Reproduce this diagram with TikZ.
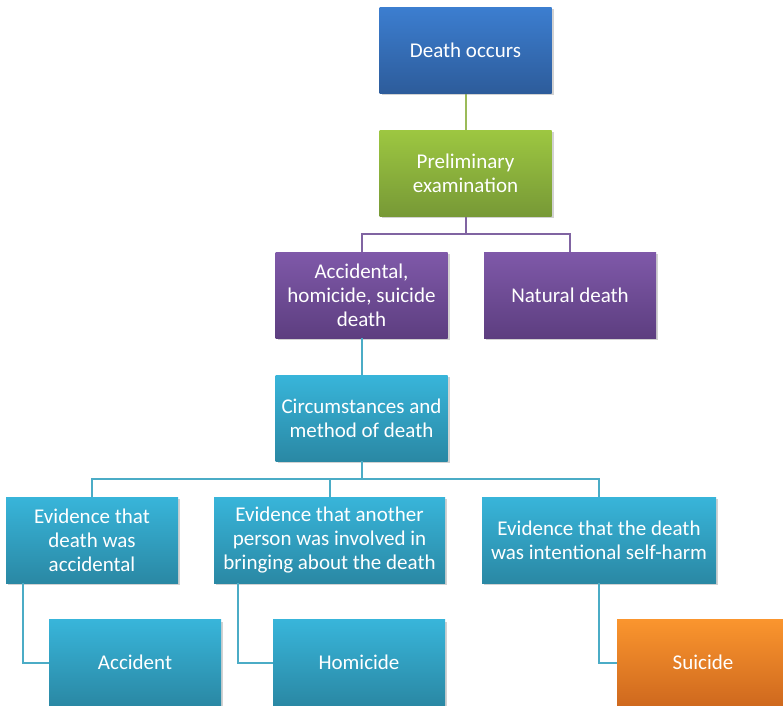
\documentclass[tikz,border=0pt]{standalone}
\usepackage{fontspec}
\setmainfont{Carlito}
\usetikzlibrary{shadows}
\definecolor{blueTop}{HTML}{3C7ED0}
\definecolor{blueBot}{HTML}{2D5C9B}
\definecolor{greenTop}{HTML}{9DC741}
\definecolor{greenBot}{HTML}{779936}
\definecolor{purpleTop}{HTML}{7F59A9}
\definecolor{purpleBot}{HTML}{5D3E80}
\definecolor{cyanTop}{HTML}{38B5DA}
\definecolor{cyanBot}{HTML}{2A88A4}
\definecolor{orangeTop}{HTML}{FA952E}
\definecolor{orangeBot}{HTML}{CF691E}
\definecolor{greenLine}{HTML}{9BBB59}
\definecolor{purpleLine}{HTML}{8064A2}
\definecolor{cyanLine}{HTML}{4BACC6}
\tikzset{
  box/.style={rectangle, minimum width=172pt, minimum height=86pt, inner sep=2pt,
    align=center, text=white, font=\fontsize{21}{24}\selectfont,
    drop shadow={shadow xshift=2pt, shadow yshift=-2pt, opacity=0.35}},
  bluebox/.style={box, top color=blueTop, bottom color=blueBot},
  greenbox/.style={box, top color=greenTop, bottom color=greenBot},
  purplebox/.style={box, top color=purpleTop, bottom color=purpleBot},
  cyanbox/.style={box, top color=cyanTop, bottom color=cyanBot},
  orangebox/.style={box, top color=orangeTop, bottom color=orangeBot},
  link/.style={line width=2pt}
}
\begin{document}
\begin{tikzpicture}[x=1pt, y=-1pt]
  \useasboundingbox[fill=white] (0,0) rectangle (783,705);
  % Connectors
  \coordinate (occC) at (465.5,50);
  \coordinate (prelimC) at (465.5,173);
  \draw[link, greenLine] (occC) -- (prelimC);
  \draw[link, purpleLine] (prelimC) -- ++(0,61) -| (361.5,295) coordinate (accC);
  \draw[link, purpleLine] (prelimC) -- ++(0,61) -| (570,295) coordinate (natC);
  % Top levels
  \node[bluebox] (occ) at (occC) {Death occurs};
  \node[greenbox] (prelim) at (prelimC) {Preliminary\\examination};
  \node[purplebox] (acc) at (accC) {Accidental,\\homicide, suicide\\death};
  \node[purplebox] (nat) at (natC) {Natural death};
  \node[cyanbox] (circ) at (361.5,418) {Circumstances and\\method of death};
  \draw[link, cyanLine] (acc) -- (circ);
  % Evidence
  \node[cyanbox] (evacc) at (92,540) {Evidence that\\death was\\accidental};
  \node[cyanbox, minimum width=231pt] (evoth) at (329.5,540) {Evidence that another\\person was involved in\\bringing about the death};
  \node[cyanbox, minimum width=234pt] (evself) at (599,540) {Evidence that the death\\was intentional self-harm};
  \draw[link, cyanLine] (circ.south) -- ++(0,18) -| (evacc.north);
  \draw[link, cyanLine] (circ.south) -- ++(0,18) -| (evoth.north);
  \draw[link, cyanLine] (circ.south) -- ++(0,18) -| (evself.north);
  % Outcomes
  \node[cyanbox] (accident) at (135,662.5) {Accident};
  \node[cyanbox] (homicide) at (359,662.5) {Homicide};
  \node[orangebox] (suicide) at (703,662.5) {Suicide};
  \draw[link, cyanLine] ([xshift=17pt]evacc.south west) |- (accident.west);
  \draw[link, cyanLine] ([xshift=24pt]evoth.south west) |- (homicide.west);
  \draw[link, cyanLine] (evself.south) |- (suicide.west);
\end{tikzpicture}
\end{document}
